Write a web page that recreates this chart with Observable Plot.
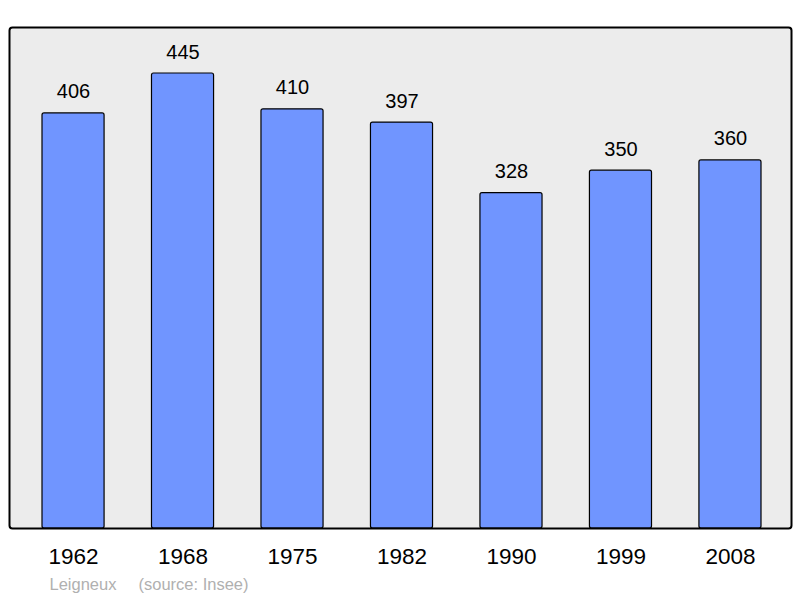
<!DOCTYPE html>
<html>
<head>
<meta charset="utf-8">
<script src="https://cdn.jsdelivr.net/npm/d3@7"></script>
<script src="https://cdn.jsdelivr.net/npm/@observablehq/plot@0.6"></script>
<style>
  html, body { margin: 0; padding: 0; background: #ffffff; }
  svg { display: block; }
</style>
</head>
<body>
<div id="chart"></div>
<script>
const years = ["1962", "1968", "1975", "1982", "1990", "1999", "2008"];
const population = [406, 445, 410, 397, 328, 350, 360];
const commune = "Leigneux";
const source = "(source: Insee)";

const data = years.map((y, i) => ({year: y, value: population[i]}));
const font = "'Liberation Sans', Arial, sans-serif";

const chart = Plot.plot({
  width: 800,
  height: 598,
  marginLeft: 9,
  marginRight: 9,
  marginTop: 27,
  marginBottom: 70,
  style: {fontFamily: font, background: "#ffffff"},
  x: {domain: years, range: [42, 761], paddingInner: 0.433, paddingOuter: 0, round: false},
  y: {domain: [0, 490]},
  marks: [
    Plot.frame({fill: "#ececec", stroke: "none", rx: 3}),
    Plot.barY(data, {x: "year", y: "value", fill: "#7095ff", stroke: "#000000", strokeWidth: 1.2, rx: 2}),
    Plot.text(data, {x: "year", y: "value", text: d => String(d.value), lineAnchor: "bottom", dy: -15, fontSize: 20, fill: "#000000"}),
    Plot.frame({fill: "none", stroke: "#000000", strokeWidth: 2, rx: 3}),
    Plot.axisX({tickSize: 0, tickPadding: 20, fontSize: 22.5, color: "#000000", label: null}),
    Plot.axisY({ticks: [], label: null, tickSize: 0}),
    Plot.text([commune], {frameAnchor: "bottom-left", dx: 40, dy: 61, lineAnchor: "bottom", textAnchor: "start", fontSize: 16.5, fill: "#b0b0b0"}),
    Plot.text([source], {frameAnchor: "bottom-left", dx: 129, dy: 61, lineAnchor: "bottom", textAnchor: "start", fontSize: 16.5, fill: "#b0b0b0"})
  ]
});
document.getElementById("chart").appendChild(chart);
</script>
</body>
</html>
